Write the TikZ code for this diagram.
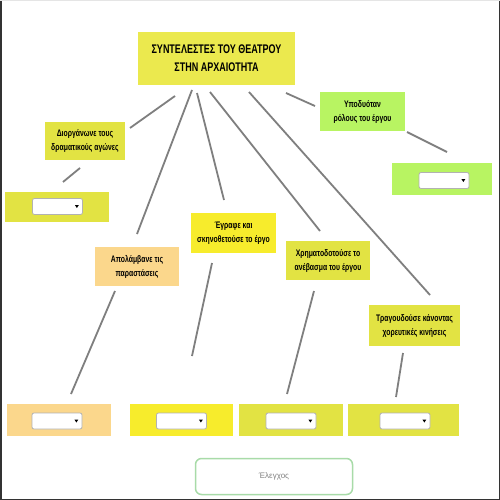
\documentclass[tikz,border=0pt]{standalone}
\usepackage{fontspec}
\setmainfont{Liberation Sans}[FakeStretch=0.72]
\newfontfamily\btnfont{Liberation Sans}
\definecolor{ttl}{HTML}{EBE94E}
\definecolor{ygr}{HTML}{E2E343}
\definecolor{yel}{HTML}{F7EC2C}
\definecolor{org}{HTML}{FBD78C}
\definecolor{grn}{HTML}{B8F462}
\definecolor{lin}{HTML}{7F7F7F}
\definecolor{btn}{HTML}{A8DBA8}
\tikzset{
  box/.style={inner sep=0pt, outer sep=0pt, align=center, font=\bfseries\fontsize{9.5}{14}\selectfont},
  ddbox/.style={inner sep=0pt, outer sep=0pt, minimum height=32pt},
  selbox/.style={draw=gray!60, fill=white, rounded corners=2pt, inner sep=0pt, minimum width=50pt, minimum height=16pt, line width=0.8pt},
  conn/.style={draw=lin, line width=1.8pt}
}
\newcommand\mysel[2]{%
  \node[selbox] (#1) at (#2) {};
  \fill ([xshift=-8pt,yshift=1.5pt]#1.east) -- ++(4pt,0) -- ++(-2pt,-3pt) -- cycle;}
\begin{document}
\begin{tikzpicture}[x=1pt,y=-1pt]
\useasboundingbox (0,0) rectangle (500,500);
\fill[white] (0,0) rectangle (500,500);
% frame
\draw[black!80, line width=1.5pt] (0.75,0) -- (0.75,499.25) -- (499.25,499.25) -- (499.25,0);
\draw[gray!20, line width=1pt] (0,0.5) -- (500,0.5);

% title
\node[box, fill=ttl, minimum width=157pt, minimum height=53pt, font=\bfseries\fontsize{12.5}{18}\selectfont] (title) at (216.5,58.5) {ΣΥΝΤΕΛΕΣΤΕΣ ΤΟΥ ΘΕΑΤΡΟΥ\\ΣΤΗΝ ΑΡΧΑΙΟΤΗΤΑ};

% label boxes
\node[box, fill=grn, minimum width=85pt, minimum height=39pt] (ypo) at (362.5,111.5) {Υποδυόταν\\ρόλους του έργου};
\node[box, fill=ygr, minimum width=80pt, minimum height=38pt] (dio) at (85,141) {Διοργάνωνε τους\\δραματικούς αγώνες};
\node[box, fill=org, minimum width=84pt, minimum height=39pt] (apo) at (137,266.5) {Απολάμβανε τις\\παραστάσεις};
\node[box, fill=yel, minimum width=85pt, minimum height=40pt] (egr) at (233.5,233) {Έγραφε και\\σκηνοθετούσε το έργο};
\node[box, fill=ygr, minimum width=84pt, minimum height=39pt] (xri) at (328,260.5) {Χρηματοδοτούσε το\\ανέβασμα του έργου};
\node[box, fill=ygr, minimum width=91pt, minimum height=41pt] (tra) at (414.5,325.5) {Τραγουδούσε κάνοντας\\χορευτικές κινήσεις};

% dropdown boxes
\node[ddbox, fill=grn, minimum width=100pt] (ddypo) at (442,179) {};
\mysel{sypo}{444,180.5}
\node[ddbox, fill=ygr, minimum width=104pt, minimum height=30pt] (dddio) at (57,207) {};
\mysel{sdio}{57.5,206.5}
\node[ddbox, fill=org, minimum width=104pt] (ddapo) at (59,420) {};
\mysel{sapo}{57,421}
\node[ddbox, fill=yel, minimum width=103pt] (ddegr) at (181.5,420) {};
\mysel{segr}{181.5,421}
\node[ddbox, fill=ygr, minimum width=104pt] (ddxri) at (291,420) {};
\mysel{sxri}{291,421}
\node[ddbox, fill=ygr, minimum width=111pt] (ddtra) at (403.5,420) {};
\mysel{stra}{405,421}

% button
\node[draw=btn, line width=1.5pt, rounded corners=6pt, fill=white, minimum width=157pt, minimum height=36pt, font=\btnfont\fontsize{8}{10}\selectfont, text=gray] (check) at (274,476.5) {Έλεγχος};

% connector end points
\coordinate (t1) at (175,96);   \coordinate (d1) at (130,128);
\coordinate (t2) at (192,90);   \coordinate (a1) at (137,234);
\coordinate (t3) at (197,93);   \coordinate (e1) at (224,200);
\coordinate (t4) at (210,92);   \coordinate (x1) at (320,231);
\coordinate (t5) at (249,92);   \coordinate (r1) at (430,295);
\coordinate (t6) at (286,93);   \coordinate (y1) at (315,106);
\coordinate (y2) at (407,132);  \coordinate (y3) at (447,152);
\coordinate (d2) at (80,168);   \coordinate (d3) at (63,182);
\coordinate (a2) at (115,291);  \coordinate (a3) at (71,394);
\coordinate (e2) at (212,263);  \coordinate (e3) at (192,356);
\coordinate (x2) at (314,291);  \coordinate (x3) at (287,394);
\coordinate (r2) at (403,353);  \coordinate (r3) at (396,397);

% connectors
\draw[conn] (t1) -- (d1);
\draw[conn] (t2) -- (a1);
\draw[conn] (t3) -- (e1);
\draw[conn] (t4) -- (x1);
\draw[conn] (t5) -- (r1);
\draw[conn] (t6) -- (y1);
\draw[conn] (y2) -- (y3);
\draw[conn] (d2) -- (d3);
\draw[conn] (a2) -- (a3);
\draw[conn] (e2) -- (e3);
\draw[conn] (x2) -- (x3);
\draw[conn] (r2) -- (r3);
\end{tikzpicture}
\end{document}
